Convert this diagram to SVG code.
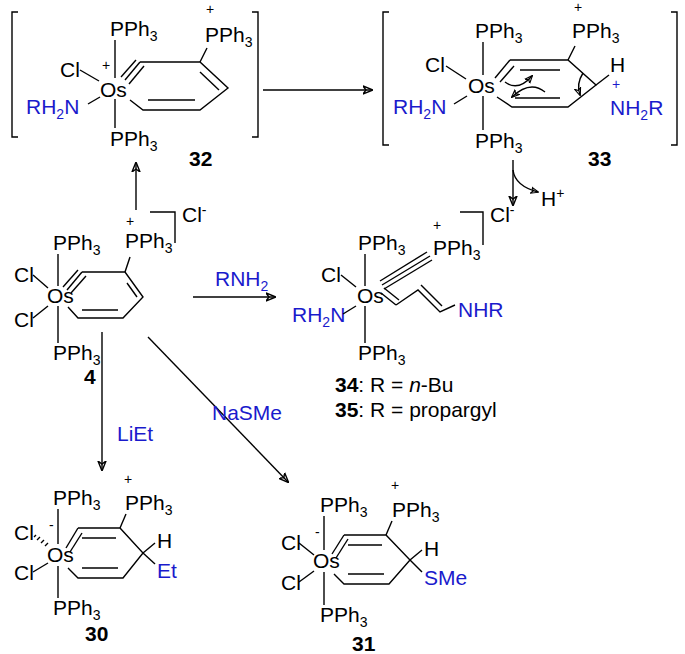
<svg xmlns="http://www.w3.org/2000/svg" width="685" height="654" viewBox="0 0 685 654">
<defs>
<style>
text{font-family:"Liberation Sans",Arial,sans-serif;font-size:21px;fill:#000}
.b{fill:#1a1acc}
.bold{font-weight:bold}
.sm{font-size:14px}
line,path,polyline{stroke:#000;stroke-width:1.4;fill:none}
</style>
<marker id="ah" viewBox="0 0 10 10" refX="9" refY="5" markerWidth="10" markerHeight="10" orient="auto" markerUnits="userSpaceOnUse"><path d="M0,1 L10,5 L0,9 L3,5 Z" fill="#000" stroke="none"/></marker>
<marker id="ah2" viewBox="0 0 10 10" refX="9" refY="5" markerWidth="8" markerHeight="8" orient="auto" markerUnits="userSpaceOnUse"><path d="M0,1 L10,5 L0,9 L3,5 Z" fill="#000" stroke="none"/></marker>
</defs>

<g id="c32">
<polyline points="18,12 12,12 12,137 18,137"/>
<polyline points="252,12 258,12 258,137 252,137"/>
<text x="110" y="36">PPh<tspan dy="5" class="sm">3</tspan></text>
<text x="110" y="146">PPh<tspan dy="5" class="sm">3</tspan></text>
<text x="60" y="77">Cl</text>
<text x="102" y="70" class="sm">+</text>
<text x="100" y="97">Os</text>
<text x="26" y="114" class="b">RH<tspan dy="5" class="sm">2</tspan><tspan dy="-5">N</tspan></text>
<line x1="115" y1="40" x2="115" y2="78"/><line x1="115" y1="99" x2="115" y2="128"/>
<line x1="80" y1="70" x2="99" y2="81"/><line x1="88" y1="104" x2="100" y2="97"/>
<line x1="125" y1="80" x2="140" y2="62"/><line x1="121" y1="77" x2="136" y2="60"/><line x1="129" y1="84" x2="144" y2="66"/>
<polyline points="140,62 200,62 228,88 200,110 143,110 130,100"/>
<line x1="200" y1="62" x2="207" y2="48"/>
<line x1="200" y1="72" x2="219" y2="90"/>
<line x1="148" y1="100" x2="195" y2="100"/>
<text x="205" y="42">PPh<tspan dy="5" class="sm">3</tspan></text>
<text x="206" y="14" class="sm">+</text>
<text x="189" y="166" class="bold">32</text>
</g>

<g id="c33">
<polyline points="389,12 383,12 383,145 389,145"/>
<polyline points="671,12 677,12 677,145 671,145"/>
<text x="475" y="38">PPh<tspan dy="5" class="sm">3</tspan></text>
<text x="475" y="148">PPh<tspan dy="5" class="sm">3</tspan></text>
<text x="425" y="72">Cl</text>
<text x="468" y="93">Os</text>
<text x="393" y="114" class="b">RH<tspan dy="5" class="sm">2</tspan><tspan dy="-5">N</tspan></text>
<line x1="483" y1="42" x2="483" y2="75"/><line x1="483" y1="96" x2="483" y2="130"/>
<line x1="446" y1="66" x2="466" y2="79"/><line x1="454" y1="104" x2="467" y2="96"/>
<line x1="495" y1="78" x2="510" y2="60"/><line x1="500" y1="82" x2="514" y2="66"/>
<polyline points="510,60 568,60 596,85 568,107 512,107 497,97"/>
<line x1="568" y1="60" x2="575" y2="46"/>
<line x1="520" y1="70" x2="560" y2="70"/>
<line x1="515" y1="98" x2="560" y2="98"/>
<line x1="596" y1="85" x2="609" y2="75"/>
<text x="572" y="38">PPh<tspan dy="5" class="sm">3</tspan></text>
<text x="574" y="12" class="sm">+</text>
<text x="610" y="72">H</text>
<text x="612" y="89" class="sm b">+</text>
<text x="610" y="115" class="b">NH<tspan dy="5" class="sm">2</tspan><tspan dy="-5">R</tspan></text>
<path d="M505,82 Q518,92 532,76" marker-end="url(#ah2)"/>
<path d="M545,92 Q530,80 512,97" marker-end="url(#ah2)"/>
<path d="M583,73 Q576,84 580,95" marker-end="url(#ah2)"/>
<text x="588" y="166" class="bold">33</text>
</g>

<g id="c4">
<text x="53" y="250">PPh<tspan dy="5" class="sm">3</tspan></text>
<text x="53" y="360">PPh<tspan dy="5" class="sm">3</tspan></text>
<text x="14" y="282">Cl</text>
<text x="14" y="327">Cl</text>
<text x="47" y="303">Os</text>
<line x1="58" y1="254" x2="58" y2="286"/><line x1="58" y1="306" x2="58" y2="343"/>
<line x1="33" y1="275" x2="48" y2="288"/><line x1="33" y1="318" x2="48" y2="306"/>
<line x1="67" y1="290" x2="82" y2="272"/><line x1="63" y1="287" x2="78" y2="270"/><line x1="71" y1="293" x2="86" y2="276"/>
<polyline points="82,272 125,272 143,297 123,318 78,318 68,307"/>
<line x1="125" y1="272" x2="130" y2="257"/>
<line x1="127" y1="283" x2="137" y2="297"/>
<line x1="82" y1="310" x2="118" y2="310"/>
<text x="125" y="248">PPh<tspan dy="5" class="sm">3</tspan></text>
<text x="126" y="226" class="sm">+</text>
<polyline points="150,212 175,212 175,243"/>
<text x="182" y="222">Cl<tspan dy="-7" class="sm">-</tspan></text>
<text x="84" y="384" class="bold">4</text>
</g>

<g id="c34">
<text x="358" y="250">PPh<tspan dy="5" class="sm">3</tspan></text>
<text x="358" y="360">PPh<tspan dy="5" class="sm">3</tspan></text>
<text x="321" y="282">Cl</text>
<text x="357" y="303">Os</text>
<text x="292" y="322" class="b">RH<tspan dy="5" class="sm">2</tspan><tspan dy="-5">N</tspan></text>
<line x1="365" y1="254" x2="365" y2="286"/><line x1="365" y1="306" x2="365" y2="343"/>
<line x1="341" y1="275" x2="356" y2="287"/><line x1="343" y1="314" x2="356" y2="306"/>
<line x1="382" y1="285" x2="430" y2="256"/><line x1="380" y1="281" x2="427" y2="252"/><line x1="384" y1="289" x2="432" y2="260"/>
<line x1="381" y1="293" x2="396" y2="305"/><line x1="384" y1="288" x2="399" y2="300"/>
<polyline points="396,305 418,290 440,312 455,305"/>
<line x1="421" y1="285" x2="442" y2="306"/>
<text x="433" y="255">PPh<tspan dy="5" class="sm">3</tspan></text>
<text x="433" y="230" class="sm">+</text>
<polyline points="460,212 483,212 483,245"/>
<text x="490" y="222">Cl<tspan dy="-7" class="sm">-</tspan></text>
<text x="458" y="317" class="b">NHR</text>
<text x="335" y="392"><tspan class="bold">34</tspan>: R = <tspan font-style="italic">n</tspan>-Bu</text>
<text x="335" y="417"><tspan class="bold">35</tspan>: R = propargyl</text>
</g>

<g id="c30">
<text x="53" y="505">PPh<tspan dy="5" class="sm">3</tspan></text>
<text x="53" y="615">PPh<tspan dy="5" class="sm">3</tspan></text>
<text x="14" y="540">Cl</text>
<text x="49" y="530" class="sm">-</text>
<text x="14" y="580">Cl</text>
<text x="47" y="562">Os</text>
<line x1="58" y1="509" x2="58" y2="544"/><line x1="58" y1="566" x2="58" y2="598"/>
<path d="M34,537 l2,-2 M37,540 l3,-3 M41,543 l3,-3 M45,546 l3,-3"/>
<line x1="33" y1="572" x2="48" y2="563"/>
<line x1="66" y1="548" x2="78" y2="528"/><line x1="70" y1="552" x2="82" y2="533"/>
<polyline points="78,528 120,528 143,553 123,578 78,578 68,568"/>
<line x1="120" y1="528" x2="126" y2="514"/>
<line x1="82" y1="538" x2="116" y2="538"/>
<line x1="82" y1="568" x2="118" y2="568"/>
<line x1="143" y1="553" x2="155" y2="543"/><line x1="143" y1="553" x2="155" y2="564"/>
<text x="125" y="510">PPh<tspan dy="5" class="sm">3</tspan></text>
<text x="124" y="484" class="sm">+</text>
<text x="157" y="548">H</text>
<text x="157" y="578" class="b">Et</text>
<text x="85" y="641" class="bold">30</text>
</g>

<g id="c31">
<text x="320" y="512">PPh<tspan dy="5" class="sm">3</tspan></text>
<text x="320" y="622">PPh<tspan dy="5" class="sm">3</tspan></text>
<text x="281" y="550">Cl</text>
<text x="315" y="537" class="sm">-</text>
<text x="281" y="590">Cl</text>
<text x="313" y="568">Os</text>
<line x1="324" y1="516" x2="324" y2="550"/><line x1="324" y1="572" x2="324" y2="605"/>
<line x1="299" y1="543" x2="314" y2="555"/><line x1="299" y1="582" x2="314" y2="571"/>
<line x1="332" y1="554" x2="344" y2="535"/><line x1="336" y1="558" x2="348" y2="539"/>
<polyline points="344,535 386,535 410,560 389,584 344,584 334,574"/>
<line x1="386" y1="535" x2="392" y2="521"/>
<line x1="348" y1="545" x2="382" y2="545"/>
<line x1="348" y1="574" x2="384" y2="574"/>
<line x1="410" y1="560" x2="422" y2="550"/><line x1="410" y1="560" x2="422" y2="572"/>
<text x="392" y="517">PPh<tspan dy="5" class="sm">3</tspan></text>
<text x="391" y="490" class="sm">+</text>
<text x="424" y="556">H</text>
<text x="424" y="585" class="b">SMe</text>
<text x="352" y="651" class="bold">31</text>
</g>

<g id="connectors">
<line x1="263" y1="90" x2="372" y2="90" marker-end="url(#ah)"/>
<line x1="136" y1="210" x2="136" y2="163" marker-end="url(#ah)"/>
<line x1="513" y1="160" x2="513" y2="205" marker-end="url(#ah)"/>
<path d="M513,170 Q515,186 538,192" marker-end="url(#ah2)"/>
<text x="541" y="206">H<tspan dy="-8" class="sm">+</tspan></text>
<line x1="193" y1="297" x2="275" y2="297" marker-end="url(#ah)"/>
<text x="215" y="286" class="b">RNH<tspan dy="5" class="sm">2</tspan></text>
<line x1="102" y1="332" x2="102" y2="470" marker-end="url(#ah)"/>
<text x="117" y="441" class="b">LiEt</text>
<line x1="148" y1="337" x2="288" y2="482" marker-end="url(#ah)"/>
<text x="212" y="420" class="b">NaSMe</text>
</g>
</svg>
